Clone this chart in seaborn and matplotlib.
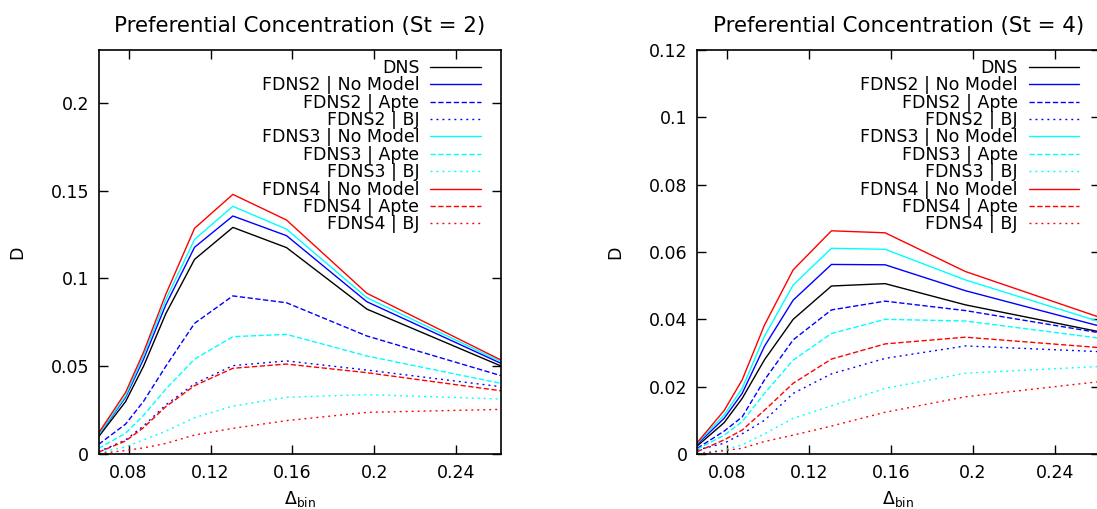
import numpy as np
import pandas as pd
import matplotlib
matplotlib.use("Agg")
import matplotlib.pyplot as plt
from matplotlib.ticker import FuncFormatter, FixedLocator
import seaborn as sns

# Bin widths (Delta_bin) shared by both Stokes numbers
delta_bin = [0.0654, 0.0785, 0.0873, 0.0982, 0.1122, 0.1309, 0.1571, 0.1963, 0.2618]

series_names = [
    "DNS",
    "FDNS2 | No Model", "FDNS2 | Apte", "FDNS2 | BJ",
    "FDNS3 | No Model", "FDNS3 | Apte", "FDNS3 | BJ",
    "FDNS4 | No Model", "FDNS4 | Apte", "FDNS4 | BJ",
]
series_colors = ["black",
                 "#0000ff", "#0000ff", "#0000ff",
                 "#00ffff", "#00ffff", "#00ffff",
                 "#ff0000", "#ff0000", "#ff0000"]
series_kinds = ["solid", "solid", "dash", "dot",
                "solid", "dash", "dot",
                "solid", "dash", "dot"]

# St = 2
st2_dns       = [0.0099, 0.0298, 0.0500, 0.0800, 0.1108, 0.1290, 0.1175, 0.0825, 0.0501]
st2_f2_none   = [0.0108, 0.0323, 0.0540, 0.0850, 0.1177, 0.1355, 0.1243, 0.0867, 0.0516]
st2_f2_apte   = [0.0055, 0.0170, 0.0300, 0.0500, 0.0744, 0.0900, 0.0861, 0.0672, 0.0446]
st2_f2_bj     = [0.0013, 0.0080, 0.0160, 0.0280, 0.0400, 0.0503, 0.0530, 0.0478, 0.0383]
st2_f3_none   = [0.0110, 0.0330, 0.0560, 0.0880, 0.1222, 0.1410, 0.1280, 0.0890, 0.0526]
st2_f3_apte   = [0.0032, 0.0118, 0.0220, 0.0370, 0.0540, 0.0668, 0.0681, 0.0558, 0.0402]
st2_f3_bj     = [0.0008, 0.0040, 0.0080, 0.0130, 0.0207, 0.0273, 0.0323, 0.0338, 0.0313]
st2_f4_none   = [0.0120, 0.0350, 0.0580, 0.0910, 0.1285, 0.1478, 0.1332, 0.0915, 0.0535]
st2_f4_apte   = [0.0011, 0.0074, 0.0150, 0.0270, 0.0389, 0.0488, 0.0512, 0.0463, 0.0360]
st2_f4_bj     = [0.0002, 0.0020, 0.0035, 0.0060, 0.0108, 0.0146, 0.0190, 0.0237, 0.0254]

# St = 4
st4_dns       = [0.0024, 0.0093, 0.0165, 0.0280, 0.0400, 0.0499, 0.0506, 0.0443, 0.0363]
st4_f2_none   = [0.0029, 0.0106, 0.0180, 0.0320, 0.0457, 0.0563, 0.0562, 0.0485, 0.0380]
st4_f2_apte   = [0.0017, 0.0068, 0.0110, 0.0220, 0.0339, 0.0428, 0.0454, 0.0426, 0.0360]
st4_f2_bj     = [0.0012, 0.0032, 0.0060, 0.0100, 0.0180, 0.0238, 0.0284, 0.0321, 0.0304]
st4_f3_none   = [0.0032, 0.0116, 0.0195, 0.0350, 0.0502, 0.0611, 0.0608, 0.0517, 0.0393]
st4_f3_apte   = [0.0014, 0.0056, 0.0096, 0.0180, 0.0279, 0.0358, 0.0400, 0.0395, 0.0344]
st4_f3_bj     = [0.0002, 0.0012, 0.0027, 0.0060, 0.0106, 0.0143, 0.0195, 0.0240, 0.0260]
st4_f4_none   = [0.0034, 0.0129, 0.0220, 0.0383, 0.0547, 0.0663, 0.0657, 0.0542, 0.0406]
st4_f4_apte   = [0.0007, 0.0042, 0.0071, 0.0130, 0.0210, 0.0282, 0.0327, 0.0347, 0.0316]
st4_f4_bj     = [0.0000, 0.0010, 0.0017, 0.0037, 0.0056, 0.0083, 0.0124, 0.0170, 0.0215]

st2_values = [st2_dns, st2_f2_none, st2_f2_apte, st2_f2_bj, st2_f3_none,
              st2_f3_apte, st2_f3_bj, st2_f4_none, st2_f4_apte, st2_f4_bj]
st4_values = [st4_dns, st4_f2_none, st4_f2_apte, st4_f2_bj, st4_f3_none,
              st4_f3_apte, st4_f3_bj, st4_f4_none, st4_f4_apte, st4_f4_bj]

x_ticks = [0.08, 0.12, 0.16, 0.2, 0.24]
st2_yticks = [0, 0.05, 0.1, 0.15, 0.2]
st4_yticks = [0, 0.02, 0.04, 0.06, 0.08, 0.1, 0.12]

sns.set_theme(style="ticks")
FONT = 12.5
TITLE_FONT = 15.4
plt.rcParams.update({
    "font.family": ["DejaVu Sans"],
    "mathtext.fontset": "dejavusans",
    "font.size": FONT,
    "axes.linewidth": 1.2,
    "axes.edgecolor": "black",
    "xtick.color": "black",
    "ytick.color": "black",
    "text.color": "black",
    "axes.labelcolor": "black",
})

line_styles = {
    "solid": "-",
    "dash": (0, (3.8, 1.8)),
    "dot": (0, (1.4, 2.9)),
}

fig = plt.figure(figsize=(10.97, 5.09), dpi=100)
ax_w = 402.3 / 1097
ax_h = 404 / 509
ax_y = 55 / 509
ax_left = fig.add_axes([98.7 / 1097, ax_y, ax_w, ax_h])
ax_right = fig.add_axes([697.3 / 1097, ax_y, ax_w, ax_h])


def draw_panel(ax, values, title, ymax, yticks):
    for name, color, kind, yvals in zip(series_names, series_colors, series_kinds, values):
        df = pd.DataFrame({"delta": delta_bin, "D": yvals})
        sns.lineplot(data=df, x="delta", y="D", ax=ax, color=color,
                     linestyle=line_styles[kind], linewidth=1.0,
                     label=name, sort=False, estimator=None)
    ax.set_xlim(delta_bin[0], delta_bin[-1])
    ax.set_ylim(0, ymax)
    ax.xaxis.set_major_locator(FixedLocator(x_ticks))
    ax.yaxis.set_major_locator(FixedLocator(yticks))
    fmt = FuncFormatter(lambda v, p: "%g" % v)
    ax.xaxis.set_major_formatter(fmt)
    ax.yaxis.set_major_formatter(fmt)
    ax.tick_params(direction="in", length=6.5, width=1.0, top=True, right=True,
                   labelsize=FONT, pad=7)
    ax.set_title(title, fontsize=TITLE_FONT, pad=13)
    ax.set_xlabel(r"$\Delta_{\mathrm{bin}}$", fontsize=FONT, labelpad=5.5)
    ax.set_ylabel("D", fontsize=FONT)
    ax.yaxis.set_label_coords(-0.181, 0.5)
    for s in ax.spines.values():
        s.set_visible(True)
        s.set_color("black")
    handles, labels = ax.get_legend_handles_labels()
    ax.legend(handles, labels, loc="upper right", bbox_to_anchor=(0.9495, 0.978),
              markerfirst=False, frameon=False, fontsize=FONT,
              handlelength=2.9, handletextpad=0.63, labelspacing=-0.035,
              borderpad=0, borderaxespad=0)


draw_panel(ax_left, st2_values, "Preferential Concentration (St = 2)", 0.23, st2_yticks)
draw_panel(ax_right, st4_values, "Preferential Concentration (St = 4)", 0.12, st4_yticks)

fig.savefig("out.png", dpi=100)
